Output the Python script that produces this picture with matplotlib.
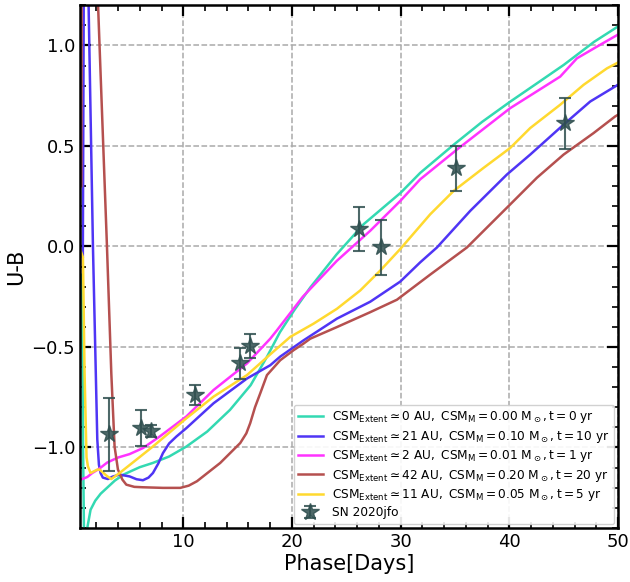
import matplotlib
matplotlib.use("Agg")
import matplotlib.pyplot as plt
import numpy as np

# ---- model curves (U-B vs phase) ----
x_m0 = [0.55, 0.68, 0.72, 0.78, 0.9, 1.05, 1.17, 1.47, 1.9, 2.4, 3.0, 3.7, 4.5, 5.1, 6.0, 7.2, 8.7, 10.3,
        12.2, 14.3, 16.2, 17.7, 18.9, 20.2, 21.7, 24.1, 26.6, 30.0, 31.8, 34.9, 37.5, 40.1, 42.5, 45.0,
        47.8, 49.7, 50.0]
y_m0 = [-0.5, -0.14, -0.2, -1.0, -1.6, -1.6, -1.4, -1.31, -1.265, -1.23, -1.20, -1.165, -1.135, -1.12,
        -1.098, -1.077, -1.045, -0.995, -0.921, -0.813, -0.69, -0.549, -0.426, -0.318, -0.203, -0.04,
        0.111, 0.267, 0.366, 0.507, 0.62, 0.721, 0.81, 0.903, 1.018, 1.084, 1.095]

x_m10 = [0.76, 0.86, 1.1, 1.2, 1.29, 1.69, 2.09, 2.24, 2.39, 2.6, 3.07, 3.5, 4.14, 5.06, 5.7, 6.29, 6.8,
         7.21, 7.7, 8.13, 8.7, 9.36, 10.28, 12.79, 15.86, 18.0, 18.92, 21.07, 24.14, 27.2, 29.96, 31.8,
         33.34, 36.4, 39.78, 41.92, 44.99, 47.44, 49.74, 50.0]
y_m10 = [-0.05, 1.5, 1.9, 1.5, 1.2, 0.0, -0.96, -1.086, -1.127, -1.15, -1.157, -1.145, -1.135, -1.144,
         -1.158, -1.163, -1.15, -1.127, -1.08, -1.028, -0.98, -0.946, -0.904, -0.78, -0.657, -0.591,
         -0.548, -0.467, -0.359, -0.275, -0.175, -0.079, -0.005, 0.177, 0.358, 0.457, 0.606, 0.721,
         0.796, 0.805]

x_m1 = [0.55, 0.71, 1.17, 1.63, 2.24, 3.0, 4.0, 5.06, 6.29, 7.82, 10.28, 12.79, 15.86, 18.0, 18.62,
        21.0, 24.14, 27.2, 29.96, 31.8, 35.18, 40.08, 44.68, 46.22, 48.06, 49.9, 50.0]
y_m1 = [-1.16, -1.157, -1.147, -1.127, -1.107, -1.075, -1.05, -1.033, -1.003, -0.946, -0.846, -0.714,
        -0.582, -0.459, -0.417, -0.25, -0.071, 0.078, 0.226, 0.334, 0.482, 0.688, 0.845, 0.936, 0.994,
        1.051, 1.055]

x_m20 = [0.62, 0.66, 1.0, 1.5, 1.8, 2.15, 2.98, 3.38, 3.68, 3.99, 4.4, 4.76, 5.5, 6.29, 8.13, 9.72,
         10.5, 11.26, 13.4, 15.24, 15.8, 16.16, 16.6, 17.08, 17.7, 18.92, 20.15, 21.07, 21.68, 24.14,
         27.2, 29.66, 32.72, 36.1, 39.78, 42.54, 44.99, 47.75, 49.74, 50.0]
y_m20 = [0.3, 1.6, 2.2, 2.2, 1.73, 1.216, 0.0, -0.632, -0.995, -1.11, -1.16, -1.185, -1.196, -1.198,
         -1.201, -1.201, -1.19, -1.168, -1.077, -0.978, -0.93, -0.879, -0.8, -0.731, -0.64, -0.566,
         -0.516, -0.483, -0.459, -0.401, -0.327, -0.265, -0.14, -0.005, 0.193, 0.342, 0.457, 0.564,
         0.647, 0.655]

x_m5 = [0.55, 0.77, 0.92, 1.1, 1.23, 1.47, 2.1, 2.3, 3.0, 3.38, 4.14, 5.68, 7.21, 10.28, 12.79, 15.86,
        18.0, 19.84, 21.99, 24.14, 26.28, 28.12, 29.96, 32.72, 34.87, 37.63, 40.08, 41.92, 44.68, 46.83,
        48.98, 50.0]
y_m5 = [-0.02, -0.054, -0.63, -1.05, -1.094, -1.127, -1.11, -1.11, -1.143, -1.157, -1.127, -1.061,
        -0.995, -0.855, -0.747, -0.64, -0.537, -0.45, -0.384, -0.31, -0.219, -0.12, -0.013, 0.16, 0.276,
        0.391, 0.49, 0.589, 0.705, 0.804, 0.886, 0.915]

# ---- observed SN 2020jfo ----
obs_phase = [3.19, 6.13, 7.06, 11.04, 15.24, 16.16, 26.19, 28.2, 35.1, 45.14]
obs_ub = [-0.935, -0.904, -0.918, -0.737, -0.582, -0.497, 0.086, -0.005, 0.388, 0.613]
obs_err = [0.18, 0.09, 0.03, 0.05, 0.075, 0.06, 0.11, 0.138, 0.114, 0.128]

labels = [
    r'$\mathrm{CSM_{Extent}\simeq 0\ AU,\ CSM_{M}=0.00\ M_\odot, t=0\ yr}$',
    r'$\mathrm{CSM_{Extent}\simeq 21\ AU,\ CSM_{M}=0.10\ M_\odot, t=10\ yr}$',
    r'$\mathrm{CSM_{Extent}\simeq 2\ AU,\ CSM_{M}=0.01\ M_\odot, t=1\ yr}$',
    r'$\mathrm{CSM_{Extent}\simeq 42\ AU,\ CSM_{M}=0.20\ M_\odot, t=20\ yr}$',
    r'$\mathrm{CSM_{Extent}\simeq 11\ AU,\ CSM_{M}=0.05\ M_\odot, t=5\ yr}$',
]
colors = ['#33D9B2', '#4F35F5', '#FF33FF', '#B5504F', '#FFD92F']

fig = plt.figure(figsize=(6.3, 5.82), dpi=100)
ax = fig.add_axes([0.127, 0.093, 0.854, 0.898])

series = [(x_m0, y_m0), (x_m10, y_m10), (x_m1, y_m1), (x_m20, y_m20), (x_m5, y_m5)]
for (xs, ys), c, lab in zip(series, colors, labels):
    ax.plot(xs, ys, color=c, lw=1.8, label=lab)

ax.errorbar(obs_phase, obs_ub, yerr=obs_err, fmt='*', color='#2F4F4F', alpha=0.85,
            markersize=13, capsize=4, elinewidth=1.5, capthick=1.5, label='SN 2020jfo')

ax.set_xlim(0.5, 50)
ax.set_ylim(-1.4, 1.2)
ax.set_xticks([10, 20, 30, 40, 50])
ax.set_yticks([-1.0, -0.5, 0.0, 0.5, 1.0])
ax.set_xticks(np.arange(2, 50, 2), minor=True)
ax.set_yticks(np.arange(-1.4, 1.21, 0.1), minor=True)
ax.tick_params(which='both', direction='in', top=True, right=True, labelsize=13)
ax.tick_params(which='major', length=8, width=1.6)
ax.tick_params(which='minor', length=4, width=1.2)
for s in ax.spines.values():
    s.set_linewidth(1.8)
ax.grid(True, which='major', ls='--', color='#AAAAAA', lw=1.1)

ax.set_xlabel('Phase[Days]', fontsize=15, labelpad=2)
ax.set_ylabel('U-B', fontsize=15)

ax.legend(loc='lower right', fontsize=8.7, handlelength=2.0, labelspacing=0.28,
          borderaxespad=0.3, framealpha=0.9)

fig.savefig('out.png', dpi=100)
